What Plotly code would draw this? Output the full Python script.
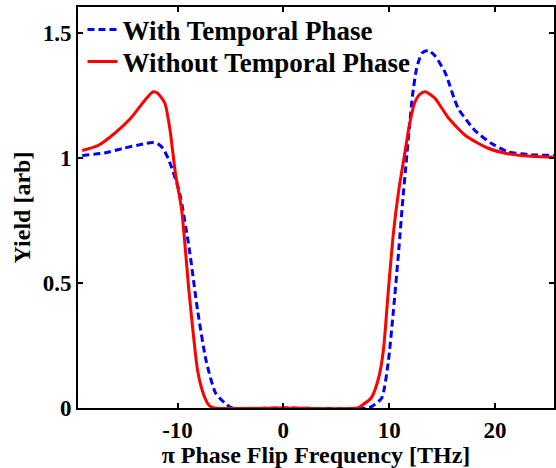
import plotly.graph_objects as go

# Yield vs. pi phase flip frequency [THz]
freq_with = [-19.0, -16.9, -15.0, -13.1, -12.4, -11.9, -11.4, -10.8, -9.8, -8.9,
             -8.1, -7.3, -6.4, -5.4, -4.8, 0.0, 8.0, 8.5, 9.3, 9.9, 10.4, 10.9,
             11.3, 11.6, 11.9, 12.2, 12.6, 13.1, 13.7, 14.3, 15.3, 16.5, 18.1,
             19.6, 21.2, 23.1, 25.6]
yield_with = [1.01, 1.02, 1.04, 1.057, 1.062, 1.058, 1.04, 0.99, 0.86, 0.64,
              0.39, 0.19, 0.06, 0.015, 0.0, 0.0, 0.0, 0.01, 0.04, 0.18, 0.39, 0.63,
              0.84, 0.98, 1.12, 1.25, 1.36, 1.42, 1.43, 1.41, 1.34, 1.20, 1.11,
              1.06, 1.025, 1.014, 1.01]

freq_without = [-19.0, -17.5, -15.9, -14.4, -13.1, -12.3, -11.9, -11.2, -10.7,
                -10.2, -9.6, -8.9, -8.1, -7.5, -7.0, -6.5, 0.0, 7.0, 7.4, 8.3,
                9.0, 9.45, 9.9, 10.4, 10.9, 11.4, 11.9, 12.4, 12.9, 13.4, 14.3,
                15.6, 17.2, 19.3, 21.2, 23.0, 25.6]
yield_without = [1.03, 1.05, 1.10, 1.16, 1.23, 1.265, 1.26, 1.22, 1.11,
                 0.94, 0.79, 0.46, 0.15, 0.05, 0.01, 0.0, 0.0, 0.0, 0.01, 0.04,
                 0.12, 0.23, 0.46, 0.70, 0.87, 1.0, 1.13, 1.22, 1.255, 1.265, 1.24,
                 1.16, 1.09, 1.04, 1.017, 1.008, 1.003]

x_ticks = [-10, 0, 10, 20]
x_tick_text = ["-10", "0", "10", "20"]
y_ticks = [0, 0.5, 1, 1.5]
y_tick_text = ["0", "0.5", "1", "1.5"]

serif = "Liberation Serif"

fig = go.Figure()
fig.add_trace(go.Scatter(
    x=freq_with, y=yield_with, mode="lines", name="With Temporal Phase",
    legend="legend",
    line=dict(color="#0000ff", width=3, dash="7px,4px", shape="spline", smoothing=0.6),
))
fig.add_trace(go.Scatter(
    x=freq_without, y=yield_without, mode="lines", name="Without Temporal Phase",
    legend="legend2",
    line=dict(color="#ff0000", width=3, shape="spline", smoothing=0.6),
))

axis_common = dict(
    showline=True, linecolor="black", linewidth=2, mirror="ticks",
    ticks="inside", ticklen=5, tickwidth=2, tickcolor="black",
    showgrid=False, zeroline=False,
    tickfont=dict(family=serif, size=23, color="black", weight="bold"),
)

legend_common = dict(
    xanchor="left", yanchor="middle", bgcolor="rgba(0,0,0,0)",
    borderwidth=0, itemwidth=30,
    font=dict(family=serif, size=27, color="black", weight="bold"),
)

fig.update_layout(
    width=556, height=468,
    margin=dict(l=78, r=0, t=7, b=60),
    paper_bgcolor="white", plot_bgcolor="white",
    xaxis=dict(range=[-19.4, 25.57], tickvals=x_ticks, ticktext=x_tick_text,
               title=dict(text="π Phase Flip Frequency [THz]", standoff=0,
                          font=dict(family=serif, size=24, color="black", weight="bold")),
               **axis_common),
    yaxis=dict(range=[0, 1.604], tickvals=y_ticks, ticktext=y_tick_text,
               title=dict(text="Yield [arb]", standoff=5,
                          font=dict(family=serif, size=24, color="black", weight="bold")),
               **axis_common),
    legend=dict(x=0.0094, y=0.9426, **legend_common),
    legend2=dict(x=0.0094, y=0.8628, **legend_common),
    showlegend=True,
)

fig.write_html("out.html")
